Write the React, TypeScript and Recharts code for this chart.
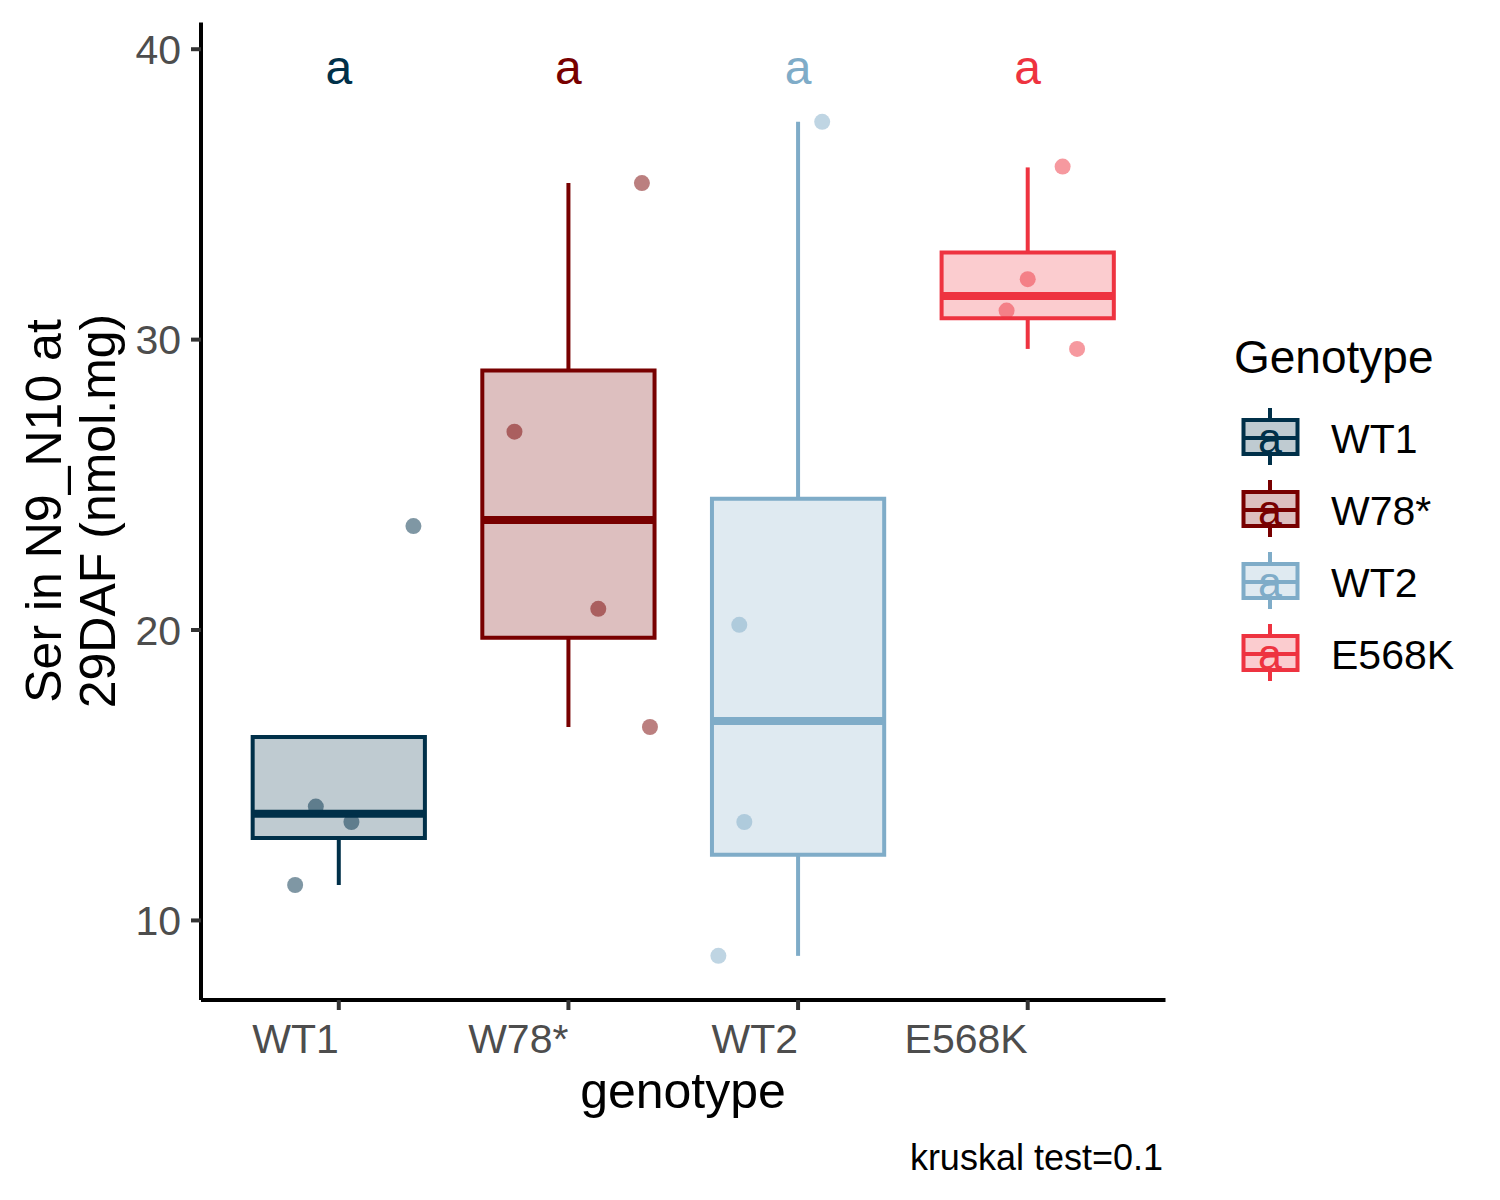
import React from 'react';
import { ComposedChart, XAxis, YAxis, Scatter, ReferenceArea, ReferenceLine } from 'recharts';

const genotypes = ['WT1', 'W78*', 'WT2', 'E568K'];
const colors = ['#003049', '#780000', '#7FACC8', '#EE3340'];
const letters = ['a', 'a', 'a', 'a'];
const letterY = 39.43;

// box statistics
const whiskerLow = [11.22, 16.66, 8.78, 29.68];
const q1 = [12.84, 19.73, 12.26, 30.74];
const medians = [13.67, 23.79, 16.87, 31.5];
const q3 = [16.32, 28.94, 24.52, 33.0];
const whiskerHigh = [16.32, 35.39, 37.5, 35.93];

// individual points (value) with their horizontal jitter offset
const wt1Values = [11.22, 13.92, 13.39, 23.58];
const wt1Jitter = [-0.19, -0.1, 0.055, 0.325];
const w78Values = [26.83, 20.73, 35.39, 16.66];
const w78Jitter = [-0.235, 0.13, 0.32, 0.355];
const wt2Values = [37.5, 20.18, 13.39, 8.78];
const wt2Jitter = [0.105, -0.256, -0.234, -0.347];
const e568kValues = [35.96, 32.08, 31.0, 29.68];
const e568kJitter = [0.152, 0.0, -0.092, 0.215];

const yTicks = [10, 20, 30, 40];
const xTicks = [1, 2, 3, 4];

const pointValues = [wt1Values, w78Values, wt2Values, e568kValues];
const pointJitter = [wt1Jitter, w78Jitter, wt2Jitter, e568kJitter];

const FONT = '"Liberation Sans", Arial, sans-serif';
const HALF = 0.375;

const pointSets = pointValues.map((vals, g) =>
  vals.map((v, k) => ({ x: g + 1 + pointJitter[g][k], y: v }))
);
const letterData = letters.map((l, g) => ({ x: g + 1, y: letterY, label: l, color: colors[g] }));

const XTick = (props: any) => {
  const { x, y, payload } = props;
  return (
    <text x={x} y={y} dy="0.71em" textAnchor="end" fill="#4D4D4D" fontSize={41} fontFamily={FONT}>
      {genotypes[payload.value - 1]}
    </text>
  );
};

const legendRows = [438, 510, 582, 654];

export default function App() {
  return (
    <div style={{ position: 'absolute', left: 0, top: 0, width: 1500, height: 1200, background: '#fff', fontFamily: FONT }}>
      <ComposedChart
        width={1500}
        height={1200}
        margin={{ top: 22.5, right: 334.5, bottom: 100, left: 0 }}
      >
        <XAxis
          type="number"
          dataKey="x"
          domain={[0.4, 4.6]}
          ticks={xTicks}
          allowDataOverflow
          height={100}
          tickSize={10}
          tickMargin={14}
          axisLine={{ stroke: '#000', strokeWidth: 4 }}
          tickLine={{ stroke: '#333', strokeWidth: 4 }}
          tick={XTick}
        />
        <YAxis
          type="number"
          dataKey="y"
          domain={[7.26, 40.92]}
          ticks={yTicks}
          allowDataOverflow
          width={201}
          tickSize={10}
          tickMargin={10}
          axisLine={{ stroke: '#000', strokeWidth: 4 }}
          tickLine={{ stroke: '#333', strokeWidth: 4 }}
          tick={{ fill: '#4D4D4D', fontSize: 41, fontFamily: FONT }}
        />
        {genotypes.map((g, i) => (
          <ReferenceLine
            key={'wu' + g}
            segment={[{ x: i + 1, y: q3[i] }, { x: i + 1, y: whiskerHigh[i] }]}
            stroke={colors[i]}
            strokeWidth={4}
            ifOverflow="visible"
          />
        ))}
        {genotypes.map((g, i) => (
          <ReferenceLine
            key={'wl' + g}
            segment={[{ x: i + 1, y: q1[i] }, { x: i + 1, y: whiskerLow[i] }]}
            stroke={colors[i]}
            strokeWidth={4}
            ifOverflow="visible"
          />
        ))}
        {genotypes.map((g, i) => (
          <ReferenceArea
            key={'box' + g}
            x1={i + 1 - HALF}
            x2={i + 1 + HALF}
            y1={q1[i]}
            y2={q3[i]}
            fill={colors[i]}
            fillOpacity={0.25}
            stroke={colors[i]}
            strokeWidth={4}
            ifOverflow="visible"
          />
        ))}
        {genotypes.map((g, i) => (
          <ReferenceLine
            key={'med' + g}
            segment={[{ x: i + 1 - HALF, y: medians[i] }, { x: i + 1 + HALF, y: medians[i] }]}
            stroke={colors[i]}
            strokeWidth={8}
            ifOverflow="visible"
          />
        ))}
        {genotypes.map((g, i) => (
          <Scatter
            key={'pts' + g}
            name={g}
            data={pointSets[i]}
            dataKey="y"
            isAnimationActive={false}
            shape={(p: any) => (
              <circle cx={p.cx} cy={p.cy} r={8} fill={colors[i]} fillOpacity={0.5} />
            )}
          />
        ))}
        <Scatter
          name="letters"
          data={letterData}
          dataKey="y"
          isAnimationActive={false}
          shape={(p: any) => (
            <text
              x={p.cx}
              y={p.cy}
              dy={18}
              textAnchor="middle"
              fill={p.payload.color}
              fontSize={48}
              fontFamily={FONT}
            >
              {p.payload.label}
            </text>
          )}
        />
      </ComposedChart>
      <svg
        width={1500}
        height={1200}
        style={{ position: 'absolute', left: 0, top: 0, pointerEvents: 'none' }}
        fontFamily={FONT}
      >
        <text transform="translate(61,511) rotate(-90)" textAnchor="middle" fontSize={50} fill="#000">
          Ser in N9_N10 at
        </text>
        <text transform="translate(115,511) rotate(-90)" textAnchor="middle" fontSize={50} fill="#000">
          29DAF (nmol.mg)
        </text>
        <text x={683} y={1108} textAnchor="middle" fontSize={50} fill="#000">
          genotype
        </text>
        <text x={1163} y={1170} textAnchor="end" fontSize={36} fill="#000">
          kruskal test=0.1
        </text>
        <text x={1234} y={373} fontSize={46} fill="#000">
          Genotype
        </text>
        {genotypes.map((g, i) => {
          const cy = legendRows[i];
          const c = colors[i];
          return (
            <g key={'leg' + g}>
              <line x1={1270} x2={1270} y1={cy - 30} y2={cy + 27} stroke={c} strokeWidth={4} />
              <rect x={1243.5} y={cy - 18} width={54} height={34} fill="#fff" />
              <rect x={1243.5} y={cy - 18} width={54} height={34} fill={c} fillOpacity={0.25} stroke={c} strokeWidth={4} />
              <line x1={1243.5} x2={1297.5} y1={cy} y2={cy} stroke={c} strokeWidth={4} />
              <text x={1270} y={cy + 15} textAnchor="middle" fontSize={43} fill={c}>
                {letters[i]}
              </text>
              <text x={1331} y={cy + 15} fontSize={41} fill="#000">
                {g}
              </text>
            </g>
          );
        })}
      </svg>
    </div>
  );
}
